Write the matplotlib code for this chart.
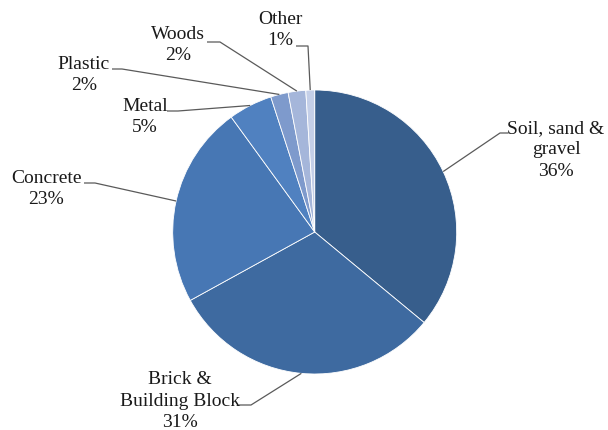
import numpy as np
import matplotlib.pyplot as plt

# Composition of construction waste
labels = ["Soil, sand &\ngravel", "Brick &\nBuilding Block", "Concrete", "Metal",
          "Plastic", "Woods", "Other"]
shares = [36, 31, 23, 5, 2, 2, 1]
colors = ["#375E8C", "#3E6AA0", "#4777B4", "#5081C0", "#7E9ACC", "#A5B6DA", "#C4CFE8"]

# label block centre, elbow of the leader line, end of the short horizontal tick
label_pos = [(556, 150), (180, 401), (46, 189), (145, 117), (84, 75), (178, 45), (280, 30)]
elbows = [(500, 133), (251, 405), (95, 183), (178, 111), (122, 69), (220, 42), (308, 46)]
ticks = [(508, 133), (239, 405), (84, 183), (167, 111), (112, 69), (207, 42), (296, 46)]

W, H = 608, 430
CX, CY, R = 314.7, 232, 142

plt.rcParams["font.family"] = ["Liberation Serif", "DejaVu Serif"]

fig = plt.figure(figsize=(W / 100, H / 100), dpi=100)
ax = fig.add_axes([0, 0, 1, 1])

wedges, _ = ax.pie(shares, colors=colors, startangle=90, counterclock=False,
                   center=(CX, H - CY), radius=R,
                   wedgeprops=dict(edgecolor="white", linewidth=0.6))

# pie() resets the limits, so set the pixel frame afterwards
ax.set_xlim(0, W)
ax.set_ylim(0, H)
ax.set_aspect("equal")
ax.axis("off")

for w, lab, val, lp, el, tk in zip(wedges, labels, shares, label_pos, elbows, ticks):
    ang = np.deg2rad((w.theta1 + w.theta2) / 2)
    ex = CX + R * np.cos(ang)
    ey = (H - CY) + R * np.sin(ang)
    ax.plot([ex, el[0], tk[0]], [ey, H - el[1], H - tk[1]],
            color="#5a5a5a", lw=0.9, solid_capstyle="butt")
    ax.text(lp[0], H - lp[1], f"{lab}\n{val}%", ha="center", va="center",
            multialignment="center", fontsize=14, linespacing=1.35, color="#1a1a1a")

fig.savefig("out.png", dpi=100)
